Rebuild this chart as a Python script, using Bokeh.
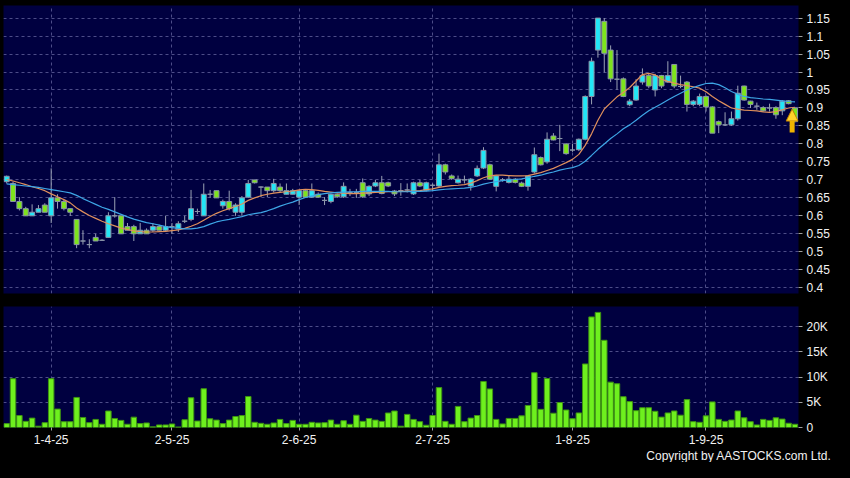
from bokeh.plotting import figure
from bokeh.layouts import column
from bokeh.models import (ColumnDataSource, FixedTicker, Range1d, Arrow, NormalHead,
                          Title, NumeralTickFormatter, GlobalInlineStyleSheet)
from bokeh.embed import file_html
from bokeh.resources import INLINE

# ---------------- data ----------------
opens = [0.695, 0.690, 0.640, 0.620, 0.600, 0.610, 0.630, 0.600, 0.650, 0.640,
         0.620, 0.590, 0.530, 0.520, 0.540, 0.532, 0.540, 0.600, 0.600, 0.570,
         0.570, 0.550, 0.560, 0.560, 0.570, 0.560, 0.570, 0.563, 0.585, 0.590,
         0.612, 0.600, 0.660, 0.670, 0.628, 0.640, 0.610, 0.610, 0.652, 0.700,
         0.680, 0.680, 0.670, 0.680, 0.660, 0.660, 0.652, 0.670, 0.652, 0.660,
         0.643, 0.640, 0.660, 0.653, 0.665, 0.665, 0.692, 0.661, 0.683, 0.692,
         0.692, 0.669, 0.670, 0.672, 0.661, 0.692, 0.671, 0.685, 0.683, 0.742,
         0.711, 0.692, 0.700, 0.683, 0.711, 0.733, 0.742, 0.682, 0.700, 0.693,
         0.702, 0.691, 0.682, 0.722, 0.762, 0.750, 0.822, 0.815, 0.800, 0.783,
         0.784, 0.813, 0.932, 1.061, 1.141, 1.061, 0.980, 0.981, 0.909, 0.922,
         0.972, 0.990, 0.950, 0.990, 0.972, 1.021, 0.960, 0.972, 0.910, 0.910,
         0.932, 0.903, 0.862, 0.853, 0.853, 0.870, 0.961, 0.919, 0.905, 0.901,
         0.900, 0.901, 0.892, 0.920, 0.900]
highs = [0.712, 0.695, 0.652, 0.625, 0.632, 0.630, 0.635, 0.732, 0.660, 0.645,
         0.620, 0.590, 0.560, 0.535, 0.550, 0.535, 0.610, 0.652, 0.600, 0.580,
         0.575, 0.580, 0.565, 0.580, 0.575, 0.600, 0.580, 0.585, 0.600, 0.672,
         0.620, 0.690, 0.672, 0.670, 0.645, 0.670, 0.635, 0.655, 0.700, 0.700,
         0.682, 0.680, 0.703, 0.690, 0.690, 0.675, 0.672, 0.672, 0.690, 0.665,
         0.652, 0.662, 0.662, 0.693, 0.675, 0.675, 0.704, 0.685, 0.700, 0.711,
         0.695, 0.672, 0.691, 0.690, 0.695, 0.700, 0.695, 0.690, 0.773, 0.745,
         0.715, 0.712, 0.712, 0.705, 0.740, 0.791, 0.745, 0.712, 0.705, 0.712,
         0.705, 0.695, 0.712, 0.790, 0.765, 0.832, 0.830, 0.853, 0.802, 0.800,
         0.815, 0.935, 1.040, 1.150, 1.150, 1.074, 1.061, 0.985, 0.925, 0.980,
         1.010, 0.995, 0.995, 0.992, 1.030, 1.021, 0.990, 0.975, 0.922, 0.940,
         0.935, 0.905, 0.865, 0.888, 0.890, 0.962, 0.962, 0.920, 0.915, 0.905,
         0.912, 0.905, 0.922, 0.922, 0.902]
lows = [0.690, 0.640, 0.615, 0.600, 0.600, 0.610, 0.610, 0.580, 0.620, 0.615,
        0.600, 0.510, 0.520, 0.510, 0.530, 0.530, 0.540, 0.595, 0.550, 0.560,
        0.530, 0.550, 0.550, 0.555, 0.560, 0.555, 0.550, 0.555, 0.580, 0.585,
        0.605, 0.600, 0.650, 0.650, 0.620, 0.615, 0.600, 0.600, 0.650, 0.690,
        0.652, 0.652, 0.665, 0.665, 0.660, 0.660, 0.630, 0.650, 0.650, 0.650,
        0.630, 0.635, 0.650, 0.650, 0.655, 0.650, 0.650, 0.655, 0.680, 0.660,
        0.680, 0.655, 0.656, 0.665, 0.658, 0.680, 0.668, 0.670, 0.680, 0.715,
        0.700, 0.690, 0.690, 0.670, 0.708, 0.730, 0.700, 0.668, 0.695, 0.690,
        0.690, 0.680, 0.670, 0.718, 0.740, 0.745, 0.810, 0.780, 0.770, 0.778,
        0.780, 0.810, 0.910, 1.040, 0.999, 0.972, 0.951, 0.930, 0.905, 0.920,
        0.965, 0.955, 0.932, 0.955, 0.970, 0.955, 0.955, 0.890, 0.905, 0.905,
        0.890, 0.830, 0.830, 0.850, 0.850, 0.865, 0.920, 0.900, 0.895, 0.890,
        0.890, 0.870, 0.880, 0.910, 0.860]
closes = [0.710, 0.640, 0.620, 0.600, 0.610, 0.620, 0.610, 0.650, 0.640, 0.620,
          0.610, 0.520, 0.530, 0.520, 0.530, 0.532, 0.600, 0.600, 0.550, 0.560,
          0.550, 0.560, 0.550, 0.570, 0.560, 0.570, 0.570, 0.578, 0.585, 0.620,
          0.612, 0.660, 0.660, 0.650, 0.640, 0.620, 0.630, 0.650, 0.690, 0.692,
          0.680, 0.670, 0.690, 0.670, 0.670, 0.670, 0.670, 0.652, 0.670, 0.652,
          0.643, 0.660, 0.653, 0.682, 0.665, 0.665, 0.653, 0.682, 0.692, 0.662,
          0.683, 0.661, 0.670, 0.672, 0.692, 0.683, 0.692, 0.685, 0.742, 0.722,
          0.704, 0.702, 0.700, 0.702, 0.732, 0.782, 0.702, 0.711, 0.700, 0.702,
          0.693, 0.682, 0.711, 0.770, 0.742, 0.813, 0.811, 0.815, 0.773, 0.783,
          0.813, 0.932, 1.030, 1.150, 1.052, 0.981, 0.980, 0.932, 0.919, 0.961,
          0.990, 0.961, 0.990, 0.961, 0.990, 0.961, 0.960, 0.910, 0.919, 0.932,
          0.903, 0.830, 0.853, 0.853, 0.870, 0.941, 0.922, 0.910, 0.905, 0.892,
          0.900, 0.881, 0.919, 0.912, 0.862]
volumes = [770, 9680, 2370, 1220, 1860, 260, 960, 9680, 3650, 1150,
           1150, 5960, 1990, 960, 1600, 640, 3270, 1790, 1410, 640,
           2050, 770, 900, 130, 510, 510, 700, 100, 1540, 5900,
           1280, 7690, 1730, 1470, 770, 1470, 2180, 2370, 6150, 1030,
           830, 640, 900, 1600, 770, 1410, 640, 640, 1030, 900,
           960, 1470, 640, 1350, 640, 2440, 1220, 1790, 1470, 1220,
           2880, 3270, 260, 2600, 1600, 1160, 450, 2380, 7910, 1220,
           640, 4180, 1160, 1860, 2380, 9130, 7650, 1610, 710, 1800,
           1800, 2310, 4370, 10870, 3600, 9710, 2830, 4950, 3470, 1740,
           2890, 12600, 21930, 22830, 17300, 9000, 8680, 6110, 5140, 3340,
           3920, 3920, 3220, 2060, 2890, 3280, 2440, 5530, 1160, 1030,
           2310, 5080, 1610, 1220, 1480, 3280, 1930, 1160, 510, 1610,
           1410, 1930, 1670, 840, 640]
ma_short = [0.701, 0.697, 0.692, 0.687, 0.681, 0.676, 0.670, 0.661, 0.653, 0.645,
            0.636, 0.622, 0.611, 0.601, 0.593, 0.585, 0.578, 0.572, 0.566, 0.562,
            0.558, 0.556, 0.555, 0.555, 0.556, 0.557, 0.559, 0.561, 0.565, 0.571,
            0.578, 0.588, 0.598, 0.607, 0.614, 0.620, 0.626, 0.633, 0.643, 0.650,
            0.656, 0.660, 0.663, 0.665, 0.667, 0.669, 0.672, 0.674, 0.673, 0.671,
            0.668, 0.666, 0.664, 0.663, 0.662, 0.662, 0.663, 0.664, 0.665, 0.666,
            0.667, 0.667, 0.668, 0.668, 0.669, 0.670, 0.673, 0.675, 0.679, 0.682,
            0.684, 0.685, 0.687, 0.691, 0.698, 0.706, 0.711, 0.713, 0.713, 0.712,
            0.711, 0.711, 0.712, 0.716, 0.720, 0.726, 0.732, 0.740, 0.748, 0.757,
            0.771, 0.796, 0.828, 0.866, 0.897, 0.914, 0.931, 0.943, 0.957, 0.975,
            0.993, 0.996, 0.992, 0.980, 0.974, 0.969, 0.965, 0.962, 0.959, 0.955,
            0.945, 0.932, 0.920, 0.910, 0.900, 0.897, 0.894, 0.893, 0.892, 0.889,
            0.888, 0.890, 0.895, 0.900, 0.902]
ma_long = [0.689, 0.687, 0.685, 0.683, 0.681, 0.679, 0.676, 0.673, 0.670, 0.667,
           0.664, 0.657, 0.648, 0.640, 0.632, 0.624, 0.618, 0.611, 0.604, 0.597,
           0.591, 0.586, 0.581, 0.578, 0.574, 0.570, 0.567, 0.565, 0.564, 0.564,
           0.566, 0.570, 0.577, 0.583, 0.587, 0.590, 0.594, 0.598, 0.603, 0.606,
           0.609, 0.614, 0.620, 0.627, 0.633, 0.638, 0.645, 0.651, 0.655, 0.659,
           0.662, 0.664, 0.665, 0.666, 0.667, 0.667, 0.668, 0.668, 0.668, 0.668,
           0.668, 0.667, 0.667, 0.667, 0.668, 0.668, 0.669, 0.670, 0.672, 0.674,
           0.675, 0.676, 0.677, 0.679, 0.683, 0.688, 0.692, 0.695, 0.698, 0.700,
           0.701, 0.703, 0.706, 0.710, 0.713, 0.718, 0.722, 0.727, 0.731, 0.734,
           0.740, 0.752, 0.768, 0.785, 0.800, 0.815, 0.828, 0.842, 0.853, 0.866,
           0.880, 0.892, 0.902, 0.912, 0.922, 0.932, 0.941, 0.950, 0.957, 0.963,
           0.968, 0.969, 0.965, 0.956, 0.946, 0.938, 0.932, 0.929, 0.927, 0.925,
           0.924, 0.922, 0.920, 0.918, 0.917]
date_tick_positions = [7, 26, 46, 67, 89, 110]
date_tick_labels = ["1-4-25", "2-5-25", "2-6-25", "2-7-25", "1-8-25", "1-9-25"]
price_ticks = [0.40, 0.45, 0.50, 0.55, 0.60, 0.65, 0.70, 0.75, 0.80, 0.85,
               0.90, 0.95, 1.00, 1.05, 1.10, 1.15]
volume_ticks = [0, 5000, 10000, 15000, 20000]
volume_tick_labels = ["0", "5K", "10K", "15K", "20K"]
copyright_text = "Copyright by AASTOCKS.com Ltd."

# ---------------- styling ----------------
BG = "#000040"
GRID = "#4d4d88"
TXT = "#f2f2f2"
FONT = "Liberation Sans"
UP = "#22e6f6"
DOWN = "#7ee41c"
EDGE = "#8a95a8"
WICK = "#9aa2b4"
VOLC = "#6ef01e"
VOLE = "#3e9412"
ORANGE = "#e0905c"
BLUE = "#3ea6e6"

n = len(closes)
xs = list(range(n))
src = ColumnDataSource(dict(
    x=xs, o=opens, h=highs, l=lows, c=closes,
    top=[max(a, b) for a, b in zip(opens, closes)],
    bottom=[min(a, b) for a, b in zip(opens, closes)],
    color=[UP if c >= o else DOWN for o, c in zip(opens, closes)],
    vol=volumes, mas=ma_short, mal=ma_long))

xr = Range1d(-0.5, n - 0.45)
FW = 795


def style_axis(ax, tick_out):
    ax.axis_line_color = None
    ax.major_tick_line_color = "#a0a0a0"
    ax.major_tick_out = tick_out
    ax.major_tick_in = 0
    ax.minor_tick_line_color = None
    ax.major_label_text_color = TXT
    ax.major_label_text_font = FONT
    ax.major_label_text_font_size = "12px"
    ax.major_label_standoff = 4


def style_grid(fig):
    for g in (fig.xgrid[0], fig.ygrid[0]):
        g.grid_line_color = GRID
        g.grid_line_dash = "3 3"
        g.grid_line_width = 1


# ---------------- price panel ----------------
p = figure(frame_width=FW, frame_height=288, x_range=xr, y_range=Range1d(0.384, 1.185),
           output_backend="svg", toolbar_location=None,
           x_axis_location=None, y_axis_location="right",
           background_fill_color=BG, border_fill_color="black", outline_line_color=None,
           min_border_left=3, min_border_right=36, min_border_top=5, min_border_bottom=8)
p.yaxis.ticker = FixedTicker(ticks=price_ticks)
p.yaxis.formatter = NumeralTickFormatter(format="0.[00]")
style_axis(p.yaxis[0], 4)
p.ygrid.ticker = FixedTicker(ticks=price_ticks)
p.xgrid.ticker = FixedTicker(ticks=date_tick_positions)
style_grid(p)

p.segment(x0="x", y0="h", x1="x", y1="l", source=src, line_color=WICK, line_width=1)
p.vbar(x="x", width=0.78, top="top", bottom="bottom", source=src,
       fill_color="color", line_color=EDGE, line_width=1)
p.line("x", "mas", source=src, line_color=ORANGE, line_width=1.2)
p.line("x", "mal", source=src, line_color=BLUE, line_width=1.2)

ax_x = n - 1 - 0.45
p.add_layout(Arrow(end=NormalHead(size=12, fill_color="#ffd22a", line_color="#c08000", line_width=1),
                   x_start=ax_x, y_start=lows[-1] - 0.028, x_end=ax_x, y_end=opens[-1] - 0.003,
                   line_color="#f0b400", line_width=5))

# ---------------- volume panel ----------------
v = figure(frame_width=FW, frame_height=121, x_range=xr, y_range=Range1d(0, 24000),
           output_backend="svg", toolbar_location=None,
           x_axis_location="below", y_axis_location="right",
           background_fill_color=BG, border_fill_color="black", outline_line_color=None,
           min_border_left=3, min_border_right=36, min_border_top=5, min_border_bottom=0)
v.yaxis.ticker = FixedTicker(ticks=volume_ticks)
v.yaxis.major_label_overrides = dict(zip(volume_ticks, volume_tick_labels))
style_axis(v.yaxis[0], 4)
v.xaxis.ticker = FixedTicker(ticks=date_tick_positions)
v.xaxis.major_label_overrides = dict(zip(date_tick_positions, date_tick_labels))
style_axis(v.xaxis[0], 3)
v.ygrid.ticker = FixedTicker(ticks=volume_ticks)
v.xgrid.ticker = FixedTicker(ticks=date_tick_positions)
style_grid(v)

v.vbar(x="x", width=0.86, top="vol", bottom=0, source=src,
       fill_color=VOLC, line_color=VOLE, line_width=1)

v.add_layout(Title(text=copyright_text, align="right", offset=-33, standoff=0,
                   text_color=TXT, text_font=FONT, text_font_size="12px",
                   text_font_style="normal"), "below")

layout = column(p, v, spacing=0,
                stylesheets=[GlobalInlineStyleSheet(css="html, body { background: #000000; }")])

open("out.html", "w").write(file_html(layout, INLINE))
